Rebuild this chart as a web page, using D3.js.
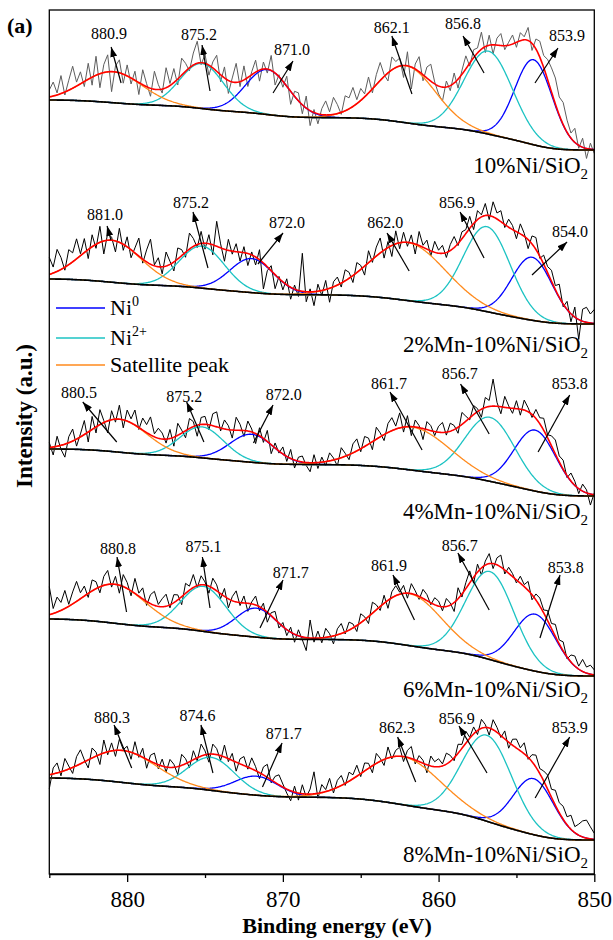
<!DOCTYPE html>
<html>
<head>
<meta charset="utf-8">
<script src="https://cdn.jsdelivr.net/npm/d3@7"></script>
<style>
    body { margin: 0; background: #fff; }
    svg { display: block; font-family: "Liberation Serif", "Times New Roman", serif; }
</style>
</head>
<body>
<div id="chart"></div>
<script>
// sample names, top to bottom
const samples = ["10%Ni/SiO2", "2%Mn-10%Ni/SiO2", "4%Mn-10%Ni/SiO2", "6%Mn-10%Ni/SiO2", "8%Mn-10%Ni/SiO2"];
const sampleLabelLevel = [701, 522, 355, 177, 12];

const minorTicks = [885, 875, 865, 855];
const majorTicks = [880, 870, 860, 850];

// Shirley background level of each spectrum: [at 850 eV, at 885 eV]
const bgLevels = [[724, 774], [550, 595], [378, 425], [198, 255], [34, 96]];

// fitted components: [centre (eV), height, sigma (eV)]
const ni0Peaks = [
    [[853.9, 85, 1.2], [871.0, 45, 1.4]],
    [[854.0, 63, 1.3], [872.0, 34, 1.4]],
    [[853.8, 61, 1.35], [872.0, 28, 1.4]],
    [[853.8, 57, 1.35], [871.7, 29, 1.3]],
    [[853.9, 56, 1.3], [871.7, 19, 1.4]]
];
const ni2Peaks = [
    [[856.8, 83, 1.55], [875.2, 45, 1.4]],
    [[856.9, 85, 1.5], [875.2, 42, 1.45]],
    [[856.7, 64, 1.6], [875.2, 31, 1.4]],
    [[856.7, 88, 1.55], [875.1, 45, 1.45]],
    [[856.9, 86, 1.6], [874.6, 33, 1.5]]
];
const satPeaks = [
    [[862.1, 57, 1.9], [880.9, 31, 1.9]],
    [[862.0, 58, 2.4], [881.0, 42, 1.9]],
    [[861.7, 43, 2.4], [880.5, 33, 1.8]],
    [[861.9, 52, 2.1], [880.8, 39, 2.0]],
    [[862.3, 48, 2.4], [880.3, 32, 2.2]]
];

// measured counts minus the fit envelope, every 0.25 eV from 885 to 850 eV
const residuals = [
    [7, 14, 2, 18, -3, 10, 22, 4, 12, -5,
     16, -8, 19, -14, 8, 17, -20, 6, 13, -9,
     11, -6, 9, -12, 15, 3, -8, 18, 5, -4,
     20, 2, 14, -6, 17, 8, -3, 12, 22, -2,
     9, -10, 6, 16, -7, 11, -13, 4, 19, -5,
     14, -9, 3, 12, -11, 7, -4, 15, -12, 2,
     -6, 10, -13, 5, 8, -9, 12, -15, 3, -10,
     6, 14, 3, 17, 9, -2, 15, 11, 19, 4,
     12, 3, 16, -4, 10, 18, 2, -8, 13, 6,
     8, -12, 14, -22, 5, 15, -6, 11, 17, 2,
     -8, -14, 6, -5, 10, -9, 4, 13, -3, 8,
     5, 17, -6, 10, -9, 7, 12, -4, 3, 9,
     -5, 8, 3, 13, -7, 10, 16, 12, 20, 24,
     26, 18, 22, 12, 5, 14, -3, 9, -10, 6, -4],
    [17, 6, 22, 12, -3, 15, 9, 20, 2, 14,
     -9, 12, -4, 16, -13, 7, 3, -11, 14, -6,
     10, -8, 5, 18, -4, 12, 25, 1, 9, -7,
     14, 3, -9, 11, 6, -5, 16, 8, -3, 12,
     -6, 9, -10, 25, 4, -12, 11, -3, 8, -9,
     6, -12, 3, -8, 10, -26, -4, 5, -14, 2,
     -8, 6, -12, 4, -6, 38, -10, 3, -14, 7,
     -5, 9, -14, 5, 8, -4, 11, 6, -7, 10,
     4, -9, 12, -3, 9, 15, -8, 6, -11, 13,
     -6, 10, -4, 8, -10, 14, 2, 9, -5, 11,
     3, 8, -5, 6, 11, -2, 7, 4, 12, -6,
     9, 2, 12, -4, 15, 6, 11, -3, 8, 4,
     -7, 10, 3, -9, 8, 12, -2, 9, 6, 11,
     4, 13, -3, 8, -8, 10, -20, 12, 15, 9, 14],
    [5, -8, 10, -4, -13, 6, 12, -7, 3, 14,
     -10, 13, -6, 15, 2, -12, 9, -3, 14, -8,
     11, 4, 15, -2, 12, 8, 18, 3, 10, 6,
     -4, 9, -9, 12, 3, -7, 10, 5, -11, 7,
     8, -5, 12, 15, -3, 9, 4, -8, 13, 6,
     -6, 10, 3, -10, 8, -4, 11, -9, 5, -2,
     7, -5, 9, -8, 4, 6, -3, -9, 8, -6,
     5, -4, 8, 2, -7, 10, 3, -5, 9, 12,
     -3, 10, 6, -8, 12, 4, -6, 9, 13, 3,
     15, -5, 11, -9, 7, 2, -11, 8, 5, -4,
     6, 10, -3, 8, 4, -6, 12, 5, -2, 9,
     3, -8, 10, 6, 27, 4, -7, 11, 2, -5,
     8, -6, 10, 4, -3, 9, 6, 12, 3, 10,
     14, 6, 9, -2, 8, 4, -5, 7, 3, -11, 2],
    [28, 5, 15, 8, 18, 2, 12, 20, 6, 10,
     -4, 11, 7, -6, 9, 14, -3, 8, -8, 12,
     6, -5, 15, 3, 11, -4, 9, 14, 2, 8,
     12, -3, 8, 5, -8, 10, 4, 13, -2, 9,
     3, -7, 10, 6, -5, 8, -9, 4, 11, -3,
     7, -8, 2, 9, -4, 6, -10, 3, 8, -5,
     4, -6, 5, -8, 6, -3, -13, 18, -4, 7,
     -5, 9, 3, -8, 6, 10, -2, 8, 4, -6,
     9, 3, -7, 11, 5, -4, 8, -8, 6, 10,
     2, 8, -5, 10, 4, -3, 9, 6, -2, 7,
     5, -4, 8, 2, -9, 11, -3, 6, 12, -6,
     8, -7, 4, 10, -5, 7, 12, -4, 6, 3,
     -3, 7, 2, 9, -5, 6, 8, 3, 10, 5,
     12, 4, 9, -2, 7, 10, 3, 12, 6, 9, 5],
    [-14, 6, 10, -4, 12, 3, -6, 9, 14, 2,
     -8, 10, 4, -10, 13, -3, 8, -6, 11, 1,
     5, -7, 12, -2, 9, -9, 6, 10, -4, 7,
     -5, 8, 3, -8, 11, 5, -6, 9, -3, 12,
     4, -8, 10, 6, -5, 12, -3, 7, -9, 5,
     9, -2, 11, 4, -6, 8, 13, -3, 6, 10,
     3, -4, -10, 6, -7, 9, -3, 5, 22, -5,
     8, 2, 12, -4, 7, 10, -2, 9, 4, 11,
     -3, 8, 5, -7, 10, 3, -6, 11, -2, 6,
     9, -5, 7, 12, -4, 6, 3, -8, 10, 5,
     8, 2, 11, 6, -3, 9, 4, 12, 1, 7,
     -4, 9, 3, -7, 10, 5, -2, 8, -6, 6,
     9, 3, 11, -2, 7, 12, 5, 10, 14, 8,
     15, 10, 13, 8, 14, 6, 11, 16, 18, 12, 6]
];

// peak labels: [text, label eV, label level, arrow head eV, head level, arrow tail eV, tail level]
const peakLabels = [
    [["880.9", 881.16, 841, 881.03, 827, 880.39, 791],
     ["875.2", 875.38, 840, 875.19, 829, 874.68, 783],
     ["871.0", 869.41, 825, 869.35, 813, 870.63, 781],
     ["862.1", 863.0, 847, 863.0, 838, 861.71, 780],
     ["856.8", 858.43, 851, 858.43, 838, 857.08, 801],
     ["853.9", 851.75, 839, 852.33, 826, 853.81, 791]],
    [["881.0", 881.42, 660, 881.29, 648, 881.04, 634],
     ["875.2", 875.9, 672, 875.77, 662, 874.81, 606],
     ["872.0", 869.73, 652, 869.99, 641, 871.6, 610],
     ["862.0", 863.43, 652, 863.31, 641, 861.89, 603],
     ["856.9", 858.81, 672, 858.62, 662, 857.08, 616],
     ["854.0", 851.56, 643, 851.75, 632, 854.0, 599]],
    [["880.5", 883.09, 482, 882.85, 472, 880.67, 432],
     ["875.2", 876.34, 478, 876.18, 472, 875.07, 432],
     ["872.0", 869.95, 480, 870.63, 469, 871.89, 431],
     ["861.7", 863.18, 491, 863.12, 482, 861.06, 424],
     ["856.7", 858.64, 501, 858.59, 490, 856.75, 440],
     ["853.8", 851.58, 491, 851.58, 479, 853.61, 422]],
    [["880.8", 880.59, 326, 880.65, 317, 880.04, 262],
     ["875.1", 875.1, 328, 875.17, 317, 874.68, 266],
     ["871.7", 869.49, 302, 869.99, 294, 871.47, 246],
     ["861.9", 863.18, 309, 862.93, 299, 861.55, 254],
     ["856.7", 858.64, 329, 858.76, 321, 856.75, 264],
     ["853.8", 851.83, 307, 852.2, 299, 853.49, 236]],
    [["880.3", 880.97, 157, 880.84, 149, 879.71, 106],
     ["874.6", 875.48, 159, 875.26, 149, 874.49, 101],
     ["871.7", 869.95, 141, 870.05, 131, 871.31, 87],
     ["862.3", 862.67, 147, 862.63, 137, 861.47, 92],
     ["856.9", 858.84, 156, 858.69, 148, 856.89, 101],
     ["853.9", 851.58, 147, 851.58, 137, 853.8, 76]]
];

const legendItems = [["Ni", "0", "#0000ff"], ["Ni", "2+", "#1cc3c3"], ["Satellite peak", "", "#ff8a1c"]];

let width = 613, height = 940;
let plot = {left: 49.3, right: 594.3, top: 10, bottom: 874};

let svg = d3.select("#chart")
    .append("svg")
    .attr("width", width)
    .attr("height", height);

let x = d3.scaleLinear()
    .domain([885, 850])
    .range([plot.left, plot.right]);
let y = d3.scaleLinear()
    .domain([0, 864])
    .range([plot.bottom, plot.top]);

svg.append("defs").append("marker")
    .attr("id", "arrow")
    .attr("viewBox", "0 0 10 7")
    .attr("refX", 10)
    .attr("refY", 3.5)
    .attr("markerWidth", 10)
    .attr("markerHeight", 7)
    .attr("markerUnits", "userSpaceOnUse")
    .attr("orient", "auto")
    .append("path")
    .attr("d", "M0,0 L10,3.5 L0,7 z")
    .attr("fill", "#000");

// energy grids
let step = 0.05;
let fine = d3.range(0, 701).map(i => 885 - i * step);
let coarse = d3.range(0, 141).map(i => 885 - i * 0.25);

function gauss(e, p){
    return p[1] * Math.exp(-((e - p[0]) ** 2) / (2 * p[2] * p[2]));
}

let line = d3.line()
    .x(d => x(d[0]))
    .y(d => y(d[1]));

samples.forEach(function(name, k){
    let peaks = [].concat(ni0Peaks[k], ni2Peaks[k], satPeaks[k]);
    let signal = fine.map(e => d3.sum(peaks, p => gauss(e, p)));

    // Shirley background, accumulated from the low binding energy end
    let cum = new Array(fine.length).fill(0);
    for (let j = fine.length - 2; j >= 0; j--)
        cum[j] = cum[j + 1] + (signal[j] + signal[j + 1]) / 2 * step;
    let lo = bgLevels[k][0], hi = bgLevels[k][1];
    let bg = cum.map(c => lo + (hi - lo) * c / cum[0]);

    let g = svg.append("g").attr("class", "spectrum");

    // measured spectrum
    let raw = coarse.map((e, i) => [e, bg[i * 5] + signal[i * 5] + residuals[k][i]]);
    g.append("path")
        .datum(raw)
        .attr("fill", "none")
        .attr("stroke", k == 0 ? "#5e5e5e" : "#000")
        .attr("stroke-width", 1)
        .attr("stroke-linejoin", "round")
        .attr("d", line);

    // components
    [[ni0Peaks[k], "#0000ff"], [ni2Peaks[k], "#1cc3c3"], [satPeaks[k], "#ff8a1c"]].forEach(function(c){
        c[0].forEach(function(p){
            g.append("path")
                .datum(fine.map((e, j) => [e, bg[j] + gauss(e, p)]))
                .attr("fill", "none")
                .attr("stroke", c[1])
                .attr("stroke-width", 1.3)
                .attr("d", line);
        });
    });

    // envelope
    g.append("path")
        .datum(fine.map((e, j) => [e, bg[j] + signal[j]]))
        .attr("fill", "none")
        .attr("stroke", "#ff0000")
        .attr("stroke-width", 1.6)
        .attr("d", line);

    // background
    g.append("path")
        .datum(fine.map((e, j) => [e, bg[j]]))
        .attr("fill", "none")
        .attr("stroke", "#000")
        .attr("stroke-width", 1.6)
        .attr("d", line);

    // peak labels with arrows
    g.selectAll(".arrow")
        .data(peakLabels[k])
        .join("line")
        .attr("class", "arrow")
        .attr("x1", d => x(d[5]))
        .attr("y1", d => y(d[6]))
        .attr("x2", d => x(d[3]))
        .attr("y2", d => y(d[4]))
        .attr("stroke", "#000")
        .attr("stroke-width", 1.2)
        .attr("marker-end", "url(#arrow)");
    g.selectAll(".peakLabel")
        .data(peakLabels[k])
        .join("text")
        .attr("class", "peakLabel")
        .attr("x", d => x(d[1]))
        .attr("y", d => y(d[2]))
        .attr("dy", "0.35em")
        .attr("text-anchor", "middle")
        .style("font-size", "16px")
        .text(d => d[0]);

    // sample name with subscript
    let t = g.append("text")
        .attr("x", x(850.4))
        .attr("y", y(sampleLabelLevel[k]))
        .attr("text-anchor", "end")
        .style("font-size", "23px");
    t.append("tspan").text(name.slice(0, -1));
    t.append("tspan").attr("dy", 6).style("font-size", "15px").text(name.slice(-1));
});

// frame
svg.append("rect")
    .attr("x", plot.left)
    .attr("y", plot.top)
    .attr("width", plot.right - plot.left)
    .attr("height", plot.bottom - plot.top)
    .attr("fill", "none")
    .attr("stroke", "#000")
    .attr("stroke-width", 1.3);

// x axis
svg.append("g")
    .attr("transform", `translate(0, ${plot.bottom})`)
    .call(d3.axisBottom(x).tickValues(minorTicks).tickSize(4).tickFormat(""))
    .call(g => g.select(".domain").remove())
    .selectAll("line").attr("stroke-width", 1.3);
svg.append("g")
    .attr("transform", `translate(0, ${plot.bottom})`)
    .call(d3.axisBottom(x).tickValues(majorTicks).tickSize(8).tickSizeOuter(0).tickPadding(9).tickFormat(d3.format("d")))
    .call(g => g.select(".domain").attr("stroke-width", 1.3))
    .call(g => g.selectAll("line").attr("stroke-width", 1.3))
    .call(g => g.selectAll("text")
        .style("font-family", "Liberation Serif, serif")
        .style("font-size", "23px")
        .attr("fill", "#000"));

svg.append("text")
    .attr("x", 337)
    .attr("y", 933)
    .attr("text-anchor", "middle")
    .style("font-size", "22px")
    .style("font-weight", "bold")
    .text("Binding energy (eV)");

svg.append("text")
    .attr("transform", "translate(32, 416) rotate(-90)")
    .attr("text-anchor", "middle")
    .style("font-size", "23px")
    .style("font-weight", "bold")
    .text("Intensity (a.u.)");

svg.append("text")
    .attr("x", 7)
    .attr("y", 33)
    .style("font-size", "22px")
    .style("font-weight", "bold")
    .text("(a)");

// legend
let legend = svg.append("g").attr("class", "legend");
legendItems.forEach(function(d, i){
    let ly = [308, 338, 365][i];
    legend.append("line")
        .attr("x1", 56).attr("x2", 105)
        .attr("y1", ly).attr("y2", ly)
        .attr("stroke", d[2])
        .attr("stroke-width", 1.5);
    let t = legend.append("text")
        .attr("x", 110)
        .attr("y", ly + 7)
        .style("font-size", "22px");
    t.append("tspan").text(d[0]);
    if (d[1]) t.append("tspan").attr("dy", -9).style("font-size", "14px").text(d[1]);
});
</script>
</body>
</html>
